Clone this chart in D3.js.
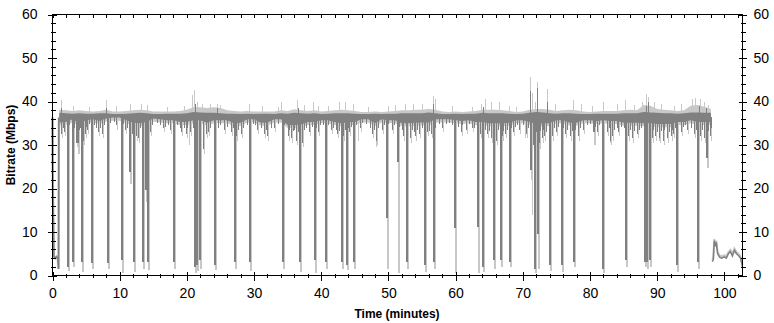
<!DOCTYPE html>
<html><head><meta charset="utf-8">
<script src="https://cdn.jsdelivr.net/npm/d3@7/dist/d3.min.js"></script>
<style>
html,body{margin:0;padding:0;background:#fff;}
svg{display:block;}
.tick text{font-family:"Liberation Sans Narrow","Arial Narrow",Arial,sans-serif;font-size:14px;fill:#000;}
.title{font-family:Arial,"Liberation Sans",sans-serif;font-size:12px;font-weight:bold;fill:#000;}
</style></head><body>
<svg id="c" width="774" height="323"></svg>
<script>
// ---------- data ----------
const xTicks = [0,10,20,30,40,50,60,70,80,90,100];
const xTickLabels = ["0","10","20","30","40","50","60","70","80","90","100"];
const yTicks = [0,10,20,30,40,50,60];
const yTickLabels = ["0","10","20","30","40","50","60"];

// per-minute envelope of the two traces (Mbps)
const minutes = [1,2,3,4,5,6,7,8,9,10,11,12,13,14,15,16,17,18,19,20,21,22,23,24,25,26,27,28,29,30,31,32,33,34,35,36,37,38,39,40,41,42,43,44,45,46,47,48,49,50,51,52,53,54,55,56,57,58,59,60,61,62,63,64,65,66,67,68,69,70,71,72,73,74,75,76,77,78,79,80,81,82,83,84,85,86,87,88,89,90,91,92,93,94,95,96,97,98];
const darkHi = [37.4,37.3,37.2,37.3,37.2,37.2,37.3,37.3,37.1,37.1,
 37.2,37.3,37.4,37.3,37.1,37.1,37.2,37.2,37.2,37.3,
 37.6,37.5,37.4,37.4,37.3,37.2,37.2,37.1,37.2,37.1,
 37.2,37.2,37.1,37.3,37.2,37.4,37.3,37.2,37.3,37.1,
 37.2,37.3,37.3,37.3,37.2,37.1,37.1,37.2,37.1,37.2,
 37.2,37.3,37.3,37.3,37.3,37.5,37.3,37.1,37.1,37.2,
 37.1,37.2,37.2,37.4,37.3,37.3,37.3,37.2,37.1,37.2,
 37.4,37.6,37.5,37.3,37.2,37.3,37.3,37.2,37.1,37.1,
 37.2,37.2,37.2,37.2,37.3,37.3,37.3,37.6,37.5,37.4,
 37.3,37.3,37.2,37.3,37.5,37.5,37.4,37.4];
const darkLo = [35.2,35.3,35.9,35.0,35.7,35.9,35.5,36.1,36.3,36.3,
 35.7,35.1,35.0,35.3,36.1,35.9,35.7,35.7,35.3,35.3,
 35.7,35.7,35.1,35.7,35.7,35.7,35.0,35.1,35.9,35.9,
 35.1,35.1,35.9,35.9,34.6,34.6,34.7,35.3,35.3,35.7,
 35.7,35.3,35.0,35.3,35.3,35.9,35.9,35.0,35.9,35.7,
 35.7,35.0,35.0,35.1,35.2,35.2,35.9,35.9,35.9,35.7,
 35.5,35.7,35.3,35.3,35.0,35.0,35.0,35.1,35.7,35.7,
 35.3,34.8,35.0,35.0,35.7,35.7,35.1,35.1,35.7,35.7,
 35.5,35.7,35.5,35.5,35.1,35.1,35.1,35.0,35.0,34.8,
 34.8,34.8,35.3,35.3,35.7,35.3,35.3,35.3];
const lightHi = [38.1,38.0,37.8,38.0,37.8,37.7,37.8,38.1,37.7,37.7,
 37.8,38.0,38.1,38.0,37.7,37.7,37.7,37.7,37.8,38.1,
 38.7,38.7,38.5,38.7,38.5,38.0,37.8,37.7,37.8,37.7,
 37.7,37.7,37.7,38.0,37.8,38.2,38.0,37.8,38.0,37.7,
 37.8,38.0,38.1,38.0,37.8,37.6,37.6,37.7,37.6,37.7,
 37.8,38.0,38.0,38.1,38.1,38.3,38.1,37.7,37.6,37.7,
 37.6,37.7,37.8,38.1,38.1,38.1,38.0,37.8,37.6,37.7,
 38.1,38.3,38.3,38.1,37.8,38.0,38.1,38.0,37.7,37.6,
 37.7,37.8,37.8,37.8,38.0,38.1,38.0,39.2,39.0,38.3,
 38.1,38.0,37.8,38.0,39.0,39.2,38.8,38.3];
const lightLo = [34.5,34.6,35.2,34.3,35.0,35.2,34.8,35.4,35.6,35.6,
 35.0,34.4,34.3,34.6,35.4,35.2,35.0,35.0,34.6,34.6,
 35.0,35.0,34.4,35.0,35.0,35.0,34.3,34.4,35.2,35.2,
 34.4,34.4,35.2,35.2,33.9,33.9,34.0,34.6,34.6,35.0,
 35.0,34.6,34.3,34.6,34.6,35.2,35.2,34.3,35.2,35.0,
 35.0,34.3,34.3,34.4,34.5,34.5,35.2,35.2,35.2,35.0,
 34.8,35.0,34.6,34.6,34.3,34.3,34.3,34.4,35.0,35.0,
 34.6,34.1,34.3,34.3,35.0,35.0,34.4,34.4,35.0,35.0,
 34.8,35.0,34.8,34.8,34.4,34.4,34.4,34.3,34.3,34.1,
 34.1,34.1,34.6,34.6,35.0,34.6,34.6,34.6];

// drop-outs: time (min), lowest dark value, lowest light value
const dipT = [2.1,2.9,3.6,4.27,5.7,8.1,10.2,11.4,12.05,13.3,13.7,14.05,18.0,21.05,21.3,21.75,24.1,27.0,29.3,34.1,36.7,38.9,40.5,42.9,43.7,44.7,49.6,51.25,52.6,55.3,56.7,59.8,63.2,64.0,65.5,66.6,67.9,71.0,71.7,72.1,73.9,75.7,77.5,80.5,81.8,85.2,88.0,88.4,88.8,92.8,96.0,97.3];
const dipDark = [2.0,3.0,30.4,3.0,2.8,2.8,3.5,23.8,3.0,3.0,19.6,3.0,3.0,2.0,2.5,3.5,2.5,3.0,3.0,3.0,3.0,3.5,3.0,3.0,2.5,3.0,13.2,26.0,3.0,2.5,3.0,11.0,11.2,2.0,3.5,3.5,3.0,24.2,1.5,9.5,2.5,2.5,3.0,33.0,1.5,3.5,3.0,3.0,3.5,2.5,3.0,27.0];
const dipLight = [1.0,2.0,28.0,0.8,1.5,1.5,0.5,21.0,0.8,1.5,17.0,1.2,1.5,0.5,1.0,1.5,1.2,1.5,1.0,1.5,0.8,0.5,1.5,1.5,1.2,1.5,1.5,0.5,1.5,0.8,1.5,0.5,0.5,0.8,1.5,2.0,2.0,22.0,0.5,1.5,1.0,0.8,2.0,30.0,0.5,2.0,2.0,1.5,2.0,0.8,1.5,24.7];

// light-only partial drops
const lDropT = [20.3,22.5,37.0,45.5,48.1,56.9,70.4,71.3,72.5,83.0,85.5,90.2];
const lDropV = [30.0,28.8,28.0,31.0,29.5,27.0,31.5,14.0,29.0,30.5,26.5,31.0];

// longer downward excursions of the dark trace
const dSpikeT = [1.3,1.7,3.5,4.5,4.8,5.2,6.8,7.3,9.5,10.8,11.8,12.5,12.8,13.5,14.5,16.5,17.5,19.2,19.8,20.5,22.4,22.8,23.2,25.5,26.5,27.3,28.0,30.5,31.5,32.0,33.0,35.0,35.5,36.2,37.2,38.2,39.5,41.5,42.4,43.2,44.2,45.8,47.5,48.1,49.0,50.5,52.2,53.2,54.0,54.6,55.8,56.3,58.0,60.8,61.5,62.5,63.6,64.6,65.2,66.0,66.9,67.4,68.5,69.5,70.5,71.5,72.4,72.8,73.2,74.3,75.0,76.3,77.0,78.2,79.0,81.0,82.5,83.0,83.3,84.2,85.7,86.3,87.0,88.1,89.2,89.7,90.3,90.8,91.4,92.0,92.4,93.5,94.5,95.5,96.4,97.0,97.8];
const dSpikeV = [32.5,33.0,30.5,31.0,32.5,33.5,33.0,32.5,34.5,33.5,32.5,32.0,31.5,32.0,33.0,34.0,33.5,33.0,32.5,33.0,29.0,32.5,33.0,33.5,33.0,32.0,32.5,33.5,32.5,32.0,34.0,32.0,31.5,31.0,30.5,33.0,33.0,33.5,32.5,32.0,33.0,34.0,32.5,31.0,33.5,33.5,32.0,31.5,32.0,32.5,33.0,32.5,34.0,33.0,33.5,34.0,32.5,32.5,31.5,31.0,32.0,32.5,33.0,33.5,32.5,30.0,30.5,31.5,32.0,32.0,33.0,32.5,32.0,32.0,33.5,33.0,33.0,31.0,32.0,33.0,32.0,31.5,32.5,30.0,31.5,32.0,31.5,31.0,31.5,32.0,32.5,33.0,33.5,32.5,32.0,31.5,32.0];
// short downward excursions (band texture)
const dTexT = [1.5,2.4,3.2,3.9,4.1,5.0,5.5,6.2,6.5,7.0,7.7,8.5,9.2,10.5,11.1,11.6,12.2,13.0,13.9,14.8,15.5,16.0,16.8,17.2,18.5,19.0,19.5,20.0,20.9,21.5,22.0,23.5,24.6,25.0,26.0,26.8,27.6,28.4,29.0,29.8,30.2,31.0,31.8,32.5,33.5,34.5,35.2,35.8,36.0,36.5,37.5,37.8,38.6,39.2,39.8,40.2,41.0,41.8,42.2,42.7,43.5,44.0,44.5,45.2,46.0,46.7,47.2,47.8,48.5,49.3,50.0,50.8,51.6,52.0,52.8,53.5,53.8,54.3,55.0,55.5,56.0,57.0,57.5,58.5,59.0,59.5,60.3,61.0,62.0,62.8,63.3,64.3,64.9,65.7,66.3,67.1,67.7,68.2,68.8,69.2,70.0,70.8,71.2,72.0,72.6,73.0,73.5,74.0,74.6,75.3,76.0,76.6,77.3,77.7,78.5,79.5,80.0,80.7,81.3,82.0,82.8,83.6,84.0,84.6,85.0,85.9,86.6,87.3,87.6,88.5,89.0,89.4,90.0,90.6,91.0,91.7,92.2,92.6,93.0,93.8,94.2,95.0,95.8,96.7,97.5,98.0];
const dTexV = [34.0,34.5,33.8,33.5,34.0,34.2,34.8,34.5,34.0,33.8,34.5,35.0,35.2,34.8,34.0,33.8,33.5,33.8,34.0,34.5,35.0,34.6,34.2,34.5,34.5,34.0,33.8,34.0,34.0,33.5,34.0,33.8,34.0,34.5,34.2,33.8,33.5,34.0,34.5,34.8,34.5,33.8,33.5,34.0,34.8,34.5,33.5,33.2,33.5,33.0,33.5,34.0,34.2,34.0,34.5,34.6,34.5,34.0,33.5,33.2,33.5,34.0,34.2,34.5,35.0,34.8,34.0,33.5,34.0,34.5,34.8,34.5,34.2,33.5,33.2,33.5,33.0,33.5,33.8,33.5,33.2,34.0,34.8,34.8,35.0,34.5,34.2,34.5,34.8,34.0,33.8,33.5,33.2,33.0,33.5,33.2,33.5,34.0,34.2,34.5,34.5,34.0,33.5,33.0,33.2,33.5,33.0,33.5,33.8,34.2,34.0,33.5,33.2,33.5,33.8,34.5,34.8,34.2,34.5,34.2,33.8,33.5,34.0,34.2,33.8,33.5,33.2,33.5,33.8,33.0,33.2,33.5,33.0,33.2,33.5,33.0,33.5,33.8,34.0,34.2,34.5,34.0,33.5,33.5,33.2,33.8];

// upward excursions
const lUpT = [1.2,3.0,5.5,8.0,9.5,11.5,13.2,14.0,17.0,19.5,20.8,21.1,21.5,22.2,23.5,24.5,25.0,29.3,31.2,33.5,34.0,36.4,37.5,38.8,39.5,41.0,42.7,43.6,44.8,47.0,50.0,51.0,52.5,53.7,55.0,56.6,56.9,59.5,62.5,63.8,64.3,65.3,66.5,68.0,69.0,71.0,71.4,71.8,72.1,73.6,74.8,77.4,78.6,80.3,82.0,84.0,85.2,86.5,87.8,88.3,88.7,89.5,90.5,92.5,93.5,95.2,95.6,96.3,97.0,97.5];
const lUpV = [40.3,39.0,38.8,40.4,39.0,39.5,39.5,39.3,38.8,39.0,41.5,42.6,40.0,39.5,39.5,39.5,39.3,39.5,39.0,38.8,40.0,40.3,39.3,39.8,39.0,39.0,39.8,39.8,39.5,38.8,39.0,39.2,39.5,39.5,39.5,41.2,40.5,39.0,38.8,39.5,40.5,39.8,39.8,39.0,38.8,45.6,42.0,40.0,44.5,42.8,39.5,40.3,39.5,39.0,40.0,39.5,40.3,39.3,39.8,41.8,41.0,39.8,39.5,39.0,39.5,40.5,40.8,40.5,40.0,39.3];
const dUpT = [1.2,8.0,21.2,24.5,36.5,56.7,64.1,71.0,72.1,73.6,88.3,88.6,96.2,97.2];
const dUpV = [38.5,38.5,39.5,38.5,38.5,39.5,38.8,42.5,43.0,40.0,39.0,40.0,39.0,38.5];

// start and end of the recording
const startT = [0,0.05,0.2,0.4,0.6,0.8,0.9,0.95];
const startV = [36.3,20.8,4.4,4.0,4.3,3.8,1.5,36.3];
const endT = [98.2,98.35,98.5,98.65,98.8,99.0,99.3,99.6,100.0,100.3,100.6,100.9,101.2,101.5,101.8,102.1,102.4,102.7];
const endV = [3.2,3.6,8.0,7.0,7.6,5.0,4.2,4.0,4.3,4.0,5.0,5.5,4.5,5.8,5.0,4.6,4.0,2.0];

// ---------- chart ----------
const DARK = "#808080", LIGHT = "#c8c8c8";
const svg = d3.select("#c");
const x = d3.scaleLinear([0, 102.7], [52.5, 742.5]);
const y = d3.scaleLinear([0, 60], [275.5, 14.5]);
const base = 36.5;
const plot = svg.append("g");

const band = minutes.map((m, i) => ({t: m, dHi: darkHi[i], dLo: darkLo[i], lHi: lightHi[i], lLo: lightLo[i]}));
const px = v => Math.round(x(v)) + 0.5;
function vlines(g, ts, vs, color, w, dx) {
  g.append("g").selectAll("line").data(ts).join("line")
    .attr("x1", t => px(t) + (dx || 0)).attr("x2", t => px(t) + (dx || 0))
    .attr("y1", y(base)).attr("y2", (t, i) => y(vs[i]))
    .attr("stroke", color).attr("stroke-width", w).attr("shape-rendering", "crispEdges");
}

// light trace
plot.append("path").datum(band).attr("fill", LIGHT)
  .attr("d", d3.area().x(d => x(d.t)).y0(d => y(d.lLo)).y1(d => y(d.lHi)));
plot.append("path").datum(startT.map((t, i) => [t, startV[i]])).attr("fill", "none")
  .attr("stroke", LIGHT).attr("stroke-width", 2.5)
  .attr("d", d3.line().x(d => x(d[0])).y(d => y(d[1])));
vlines(plot, dipT, dipLight, LIGHT, 2, 1);
vlines(plot, lDropT, lDropV, LIGHT, 1);
vlines(plot, lUpT, lUpV, LIGHT, 1);
vlines(plot, dSpikeT, dSpikeV.map(v => v - 1), LIGHT, 1, 1);
plot.append("path").datum(endT.map((t, i) => [t, endV[i] + 0.4])).attr("fill", "none")
  .attr("stroke", LIGHT).attr("stroke-width", 2)
  .attr("d", d3.line().x(d => x(d[0])).y(d => y(d[1])));

// dark trace
plot.append("path").datum(band).attr("fill", DARK)
  .attr("d", d3.area().x(d => x(d.t)).y0(d => y(d.dLo)).y1(d => y(d.dHi)));
vlines(plot, dTexT, dTexV, DARK, 1);
vlines(plot, dSpikeT, dSpikeV, DARK, 1);
vlines(plot, dUpT, dUpV, DARK, 1);
vlines(plot, dipT, dipDark, DARK, 2);
plot.append("path").datum(startT.map((t, i) => [t, startV[i]])).attr("fill", "none")
  .attr("stroke", DARK).attr("stroke-width", 1.6)
  .attr("d", d3.line().x(d => x(d[0])).y(d => y(d[1])));
plot.append("path").datum(endT.map((t, i) => [t, endV[i]])).attr("fill", "none")
  .attr("stroke", DARK).attr("stroke-width", 1.5)
  .attr("d", d3.line().x(d => x(d[0])).y(d => y(d[1])));

// ---------- axes ----------
const xMinor = d3.range(0, 103, 2).filter(v => v % 10 !== 0);
const yMinor = d3.range(0, 61, 2).filter(v => v % 10 !== 0);

function styleAxis(g) {
  g.select(".domain").remove();
  g.selectAll(".tick line").attr("stroke", "#000").attr("shape-rendering", "crispEdges");
}
// bottom
const gb = svg.append("g").attr("transform", "translate(0,275.5)")
  .call(d3.axisBottom(x).tickValues(xTicks).tickFormat((d, i) => xTickLabels[i]).tickSize(5).tickPadding(0));
styleAxis(gb); gb.selectAll(".tick line").attr("y1", -4);
gb.selectAll(".tick text").attr("y", 22).attr("dy", 0);
const gbm = svg.append("g").attr("transform", "translate(0,275.5)")
  .call(d3.axisBottom(x).tickValues(xMinor).tickFormat("").tickSize(2));
styleAxis(gbm); gbm.selectAll(".tick line").attr("y1", -2);
// top
const gt = svg.append("g").attr("transform", "translate(0,14.5)")
  .call(d3.axisBottom(x).tickValues(xMinor.concat(xTicks)).tickFormat("").tickSize(3));
styleAxis(gt);
// left
const gl = svg.append("g").attr("transform", "translate(52.5,0)")
  .call(d3.axisLeft(y).tickValues(yTicks).tickFormat((d, i) => yTickLabels[i]).tickSize(5).tickPadding(10));
styleAxis(gl); gl.selectAll(".tick line").attr("x1", 4);
const glm = svg.append("g").attr("transform", "translate(52.5,0)")
  .call(d3.axisLeft(y).tickValues(yMinor).tickFormat("").tickSize(2));
styleAxis(glm); glm.selectAll(".tick line").attr("x1", 3);
// right
const gr = svg.append("g").attr("transform", "translate(742.5,0)")
  .call(d3.axisRight(y).tickValues(yTicks).tickFormat((d, i) => yTickLabels[i]).tickSize(4).tickPadding(7));
styleAxis(gr); gr.selectAll(".tick line").attr("x1", -4);
const grm = svg.append("g").attr("transform", "translate(742.5,0)")
  .call(d3.axisRight(y).tickValues(yMinor).tickFormat("").tickSize(3));
styleAxis(grm); grm.selectAll(".tick line").attr("x1", -2);

// frame
svg.append("rect").attr("x", 52.5).attr("y", 14.5).attr("width", 690).attr("height", 261)
  .attr("fill", "none").attr("stroke", "#000").attr("shape-rendering", "crispEdges");

// titles
svg.append("text").attr("class", "title").attr("x", 397).attr("y", 318)
  .attr("text-anchor", "middle").text("Time (minutes)");
svg.append("text").attr("class", "title").attr("transform", "translate(15,145) rotate(-90)")
  .attr("text-anchor", "middle").text("Bitrate (Mbps)");
</script></body></html>
